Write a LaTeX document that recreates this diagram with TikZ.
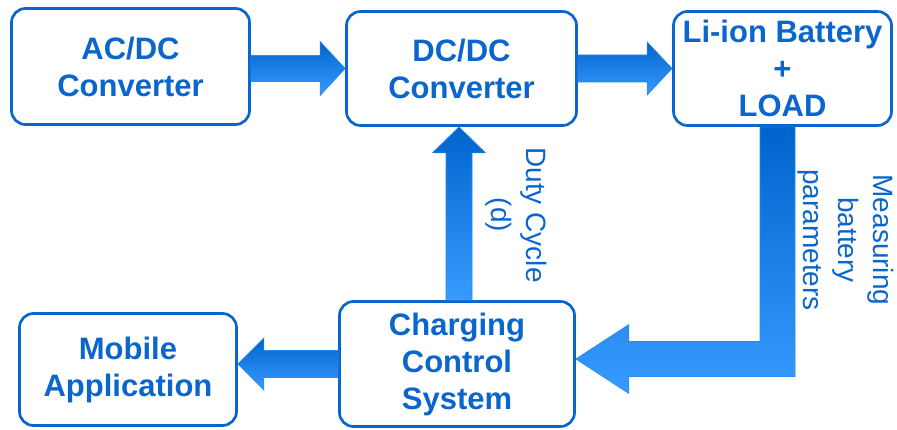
\documentclass[tikz,border=0pt]{standalone}
\usepackage{fontspec}
\setmainfont{Liberation Sans}
\usetikzlibrary{calc}
\definecolor{bblue}{RGB}{10,102,204}
\definecolor{adark}{RGB}{0,100,205}
\definecolor{alight}{RGB}{55,155,255}
\tikzset{
 blk/.style={draw=bblue, line width=2.7pt, rounded corners=14pt, fill=white, text=bblue,
   font=\fontsize{31}{37}\selectfont\bfseries, align=center, inner sep=0pt},
 fat/.style={top color=adark, bottom color=alight, draw=alight!70!adark, line width=0.6pt},
 lbl/.style={text=bblue, font=\fontsize{28}{35}\selectfont, align=center, rotate=-90, inner sep=0pt}
}
\begin{document}
\begin{tikzpicture}[x=1pt,y=-1pt]
\useasboundingbox (0,0) rectangle (897,430);
% boxes
\node[blk, minimum width=238pt, minimum height=116pt] (b1) at (130.5,66.5) {AC/DC\\Converter};
\node[blk, minimum width=230pt, minimum height=114pt] (b2) at (461.5,68.5) {DC/DC\\Converter};
\node[blk, minimum width=218pt, minimum height=114pt] (b3) at (782.5,68.5) {Li-ion Battery\\+\\LOAD};
\node[blk, minimum width=217pt, minimum height=112pt] (b4) at (128,369.5) {Mobile\\Application};
\node[blk, minimum width=235pt, minimum height=125pt] (b5) at (457,364) {Charging\\Control\\System};
% arrow AC/DC -> DC/DC
\shade[fat] ($(b1.east |- b2.west)+(0,-13)$) -- ($(b2.west)+(-25,-13)$) -- ($(b2.west)+(-25,-27)$)
  -- (b2.west) -- ($(b2.west)+(-25,27)$) -- ($(b2.west)+(-25,13)$) -- ($(b1.east |- b2.west)+(0,13)$) -- cycle;
% arrow DC/DC -> battery
\shade[fat] ($(b2.east)+(0,-13.5)$) -- ($(b3.west)+(-25,-13.5)$) -- ($(b3.west)+(-25,-26.5)$)
  -- (b3.west) -- ($(b3.west)+(-25,26.5)$) -- ($(b3.west)+(-25,13.5)$) -- ($(b2.east)+(0,13.5)$) -- cycle;
% arrow charging -> DC/DC (up)
\coordinate (u) at ($(b2.south)+(-2.5,0)$);
\shade[fat] ($(u |- b5.north)+(-13,0)$) -- ($(u)+(-13,26)$) -- ($(u)+(-26.5,26)$) -- (u)
  -- ($(u)+(26.5,26)$) -- ($(u)+(13,26)$) -- ($(u |- b5.north)+(13,0)$) -- cycle;
% L arrow battery -> charging
\coordinate (ls) at ($(b3.south)+(-5,0)$);
\coordinate (lt) at ($(b5.east)+(0,-5)$);
\shade[fat] ($(ls)+(-17.5,0)$) -- ($(ls)+(17.5,0)$) -- ($(ls |- lt)+(17.5,17.5)$) -- ($(lt)+(53,17.5)$)
  -- ($(lt)+(53,34.5)$) -- (lt) -- ($(lt)+(53,-34.5)$) -- ($(lt)+(53,-17.5)$)
  -- ($(ls |- lt)+(-17.5,-17.5)$) -- cycle;
% arrow charging -> mobile
\coordinate (mt) at (b4.east |- b5.west);
\shade[fat] ($(b5.west)+(0,-13.5)$) -- ($(mt)+(26,-13.5)$) -- ($(mt)+(26,-26)$) -- (mt)
  -- ($(mt)+(26,26)$) -- ($(mt)+(26,13.5)$) -- ($(b5.west)+(0,13.5)$) -- cycle;
% labels
\node[lbl] (dl) at (516,215) {Duty Cycle\\(d)};
\node[lbl] (ml) at (846,240) {Measuring\\battery\\parameters};
\end{tikzpicture}
\end{document}
